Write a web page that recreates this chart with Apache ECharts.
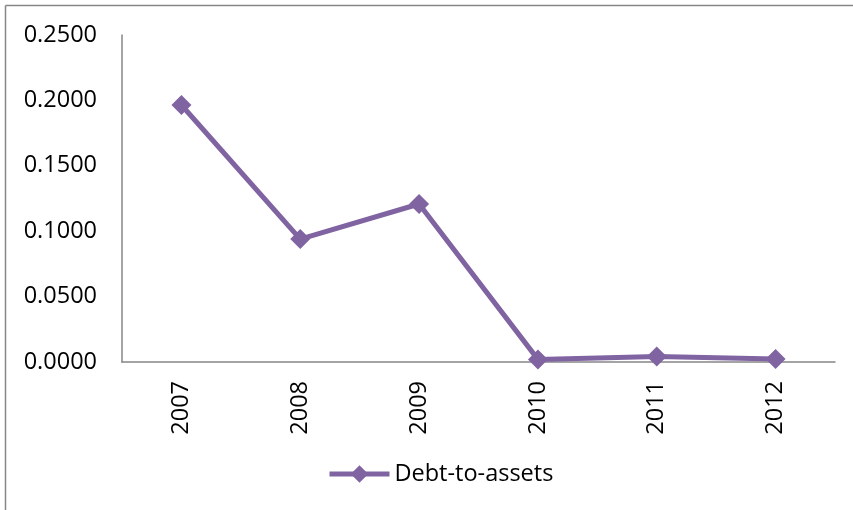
<!DOCTYPE html>
<html>
<head>
<meta charset="utf-8">
<script src="https://cdn.jsdelivr.net/npm/echarts@6/dist/echarts.min.js"></script>
<style>
  html, body { margin: 0; padding: 0; background: #fff; }
  #container { width: 853px; height: 510px; }
</style>
</head>
<body>
<div id="container"></div>
<script>
var years = ['2007', '2008', '2009', '2010', '2011', '2012'];
var debtToAssets = [0.1965, 0.0940, 0.1208, 0.0020, 0.0042, 0.0022];
var yTicks = [0, 0.05, 0.10, 0.15, 0.20, 0.25];

var dom = document.getElementById("container");
var myChart = echarts.init(dom);
var font = '"Open Sans", sans-serif';

var option = {
    animation: false,
    graphic: [
        { type: 'line', shape: { x1: 5.5, y1: 5.5, x2: 853, y2: 5.5 }, style: { stroke: '#868686', lineWidth: 1.5 } },
        { type: 'line', shape: { x1: 5.5, y1: 5.5, x2: 5.5, y2: 510 }, style: { stroke: '#868686', lineWidth: 1.5 } }
    ],
    grid: {
        left: 122,
        right: 18,
        top: 35,
        bottom: 148
    },
    legend: {
        top: 457,
        left: 322,
        itemWidth: 60,
        itemHeight: 22,
        itemGap: 3,
        lineStyle: { width: 5 },
        textStyle: { color: '#000', fontSize: 23.5, fontFamily: font },
        data: ['Debt-to-assets']
    },
    xAxis: {
        type: 'category',
        data: years,
        axisTick: { show: false },
        axisLine: { lineStyle: { color: '#868686', width: 1.5 } },
        axisLabel: {
            rotate: 90,
            margin: 19,
            color: '#000',
            fontSize: 23.5,
            fontFamily: font
        }
    },
    yAxis: {
        type: 'value',
        min: yTicks[0],
        max: yTicks[yTicks.length - 1],
        interval: 0.05,
        axisTick: { show: false },
        axisLine: { show: true, lineStyle: { color: '#868686', width: 1.5 } },
        splitLine: { show: false },
        axisLabel: {
            margin: 25,
            color: '#000',
            fontSize: 23.5,
            fontFamily: font,
            formatter: function (v) { return v.toFixed(4); }
        }
    },
    series: [{
        name: 'Debt-to-assets',
        type: 'line',
        data: debtToAssets,
        symbol: 'diamond',
        symbolSize: 20,
        itemStyle: { color: '#8064A2' },
        lineStyle: { color: '#8064A2', width: 5 }
    }]
};

myChart.setOption(option, true);
</script>
</body>
</html>
